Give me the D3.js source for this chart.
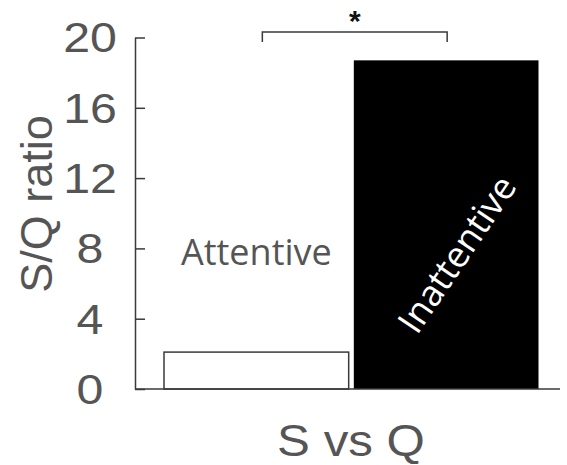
<!DOCTYPE html>
<html>
<head>
<meta charset="utf-8">
<script src="https://cdn.jsdelivr.net/npm/d3@7"></script>
<style>
  html, body { margin: 0; padding: 0; background: #fff; }
  svg { display: block; }
</style>
</head>
<body>
<svg id="chart" width="567" height="465"></svg>
<script>
// S/Q ratio for attentive vs inattentive conditions
const categories = ["Attentive", "Inattentive"];
const values = [2.1, 18.7];
const fills = ["#ffffff", "#000000"];
const yTicks = [0, 4, 8, 12, 16, 20];
const yTitle = "S/Q ratio";
const xTitle = "S vs Q";
const sigMark = "*";

const svg = d3.select("#chart");
const axisColor = "#3a3a3a";
const textColor = "#555555";

const y = d3.scaleLinear().domain([0, 20]).range([389, 37.5]);
const x = d3.scaleBand().domain(categories).range([164, 538.5]).paddingInner(0.027).paddingOuter(0);

// y axis with inward ticks and centred labels
const yAxis = svg.append("g").attr("transform", "translate(135,0)")
  .call(d3.axisLeft(y).tickValues(yTicks).tickSize(-10).tickSizeOuter(0).tickPadding(0));
yAxis.select(".domain").attr("stroke", axisColor).attr("stroke-width", 1.5);
yAxis.selectAll(".tick line").attr("stroke", axisColor).attr("stroke-width", 1.5);
yAxis.selectAll(".tick text")
  .attr("dy", null)
  .attr("dominant-baseline", "central")
  .attr("text-anchor", "middle")
  .attr("fill", textColor)
  .attr("font-family", "Liberation Sans, Arial, sans-serif")
  .attr("font-size", 42)
  .attr("transform", "scale(1.15,1)")
  .attr("x", -45 / 1.15);

// bars
svg.append("g").selectAll("rect")
  .data(categories)
  .join("rect")
  .attr("x", d => x(d))
  .attr("y", (d, i) => y(values[i]))
  .attr("width", x.bandwidth())
  .attr("height", (d, i) => y(0) - y(values[i]))
  .attr("fill", (d, i) => fills[i])
  .attr("stroke", (d, i) => i === 0 ? axisColor : "none")
  .attr("stroke-width", 1.5);

// x axis baseline
svg.append("line")
  .attr("x1", 135).attr("x2", 560)
  .attr("y1", y(0)).attr("y2", y(0))
  .attr("stroke", axisColor).attr("stroke-width", 1.5);

// in-bar category labels
const cx0 = x(categories[0]) + x.bandwidth() / 2;
const cx1 = x(categories[1]) + x.bandwidth() / 2;
svg.append("text")
  .attr("x", cx0).attr("y", 265)
  .attr("text-anchor", "middle")
  .attr("fill", textColor)
  .attr("font-family", "Open Sans, sans-serif")
  .attr("font-size", 36)
  .text(categories[0]);

svg.append("text")
  .attr("transform", `translate(${cx1 + 10},${y(7.7)}) rotate(-56)`)
  .attr("text-anchor", "middle")
  .attr("dominant-baseline", "central")
  .attr("fill", "#ffffff")
  .attr("font-family", "Open Sans, sans-serif")
  .attr("font-size", 36)
  .text(categories[1]);

// significance bracket
const bx0 = cx0 + 6, bx1 = cx1 + 1;
svg.append("path")
  .attr("d", `M${bx0},42 V32 H${bx1} V42`)
  .attr("fill", "none")
  .attr("stroke", axisColor)
  .attr("stroke-width", 1.5);
svg.append("text")
  .attr("x", (bx0 + bx1) / 2).attr("y", 31)
  .attr("text-anchor", "middle")
  .attr("font-family", "Liberation Sans, Arial, sans-serif")
  .attr("font-weight", "bold")
  .attr("font-size", 30)
  .attr("fill", "#111")
  .text(sigMark);

// axis titles
svg.append("text")
  .attr("transform", "translate(52,204) rotate(-90)")
  .attr("text-anchor", "middle")
  .attr("fill", textColor)
  .attr("font-family", "Liberation Sans, Arial, sans-serif")
  .attr("font-size", 45)
  .text(yTitle);

svg.append("text")
  .attr("transform", "translate(351,456) scale(1.12,1)")
  .attr("text-anchor", "middle")
  .attr("fill", textColor)
  .attr("font-family", "Liberation Sans, Arial, sans-serif")
  .attr("font-size", 44)
  .text(xTitle);
</script>
</body>
</html>
